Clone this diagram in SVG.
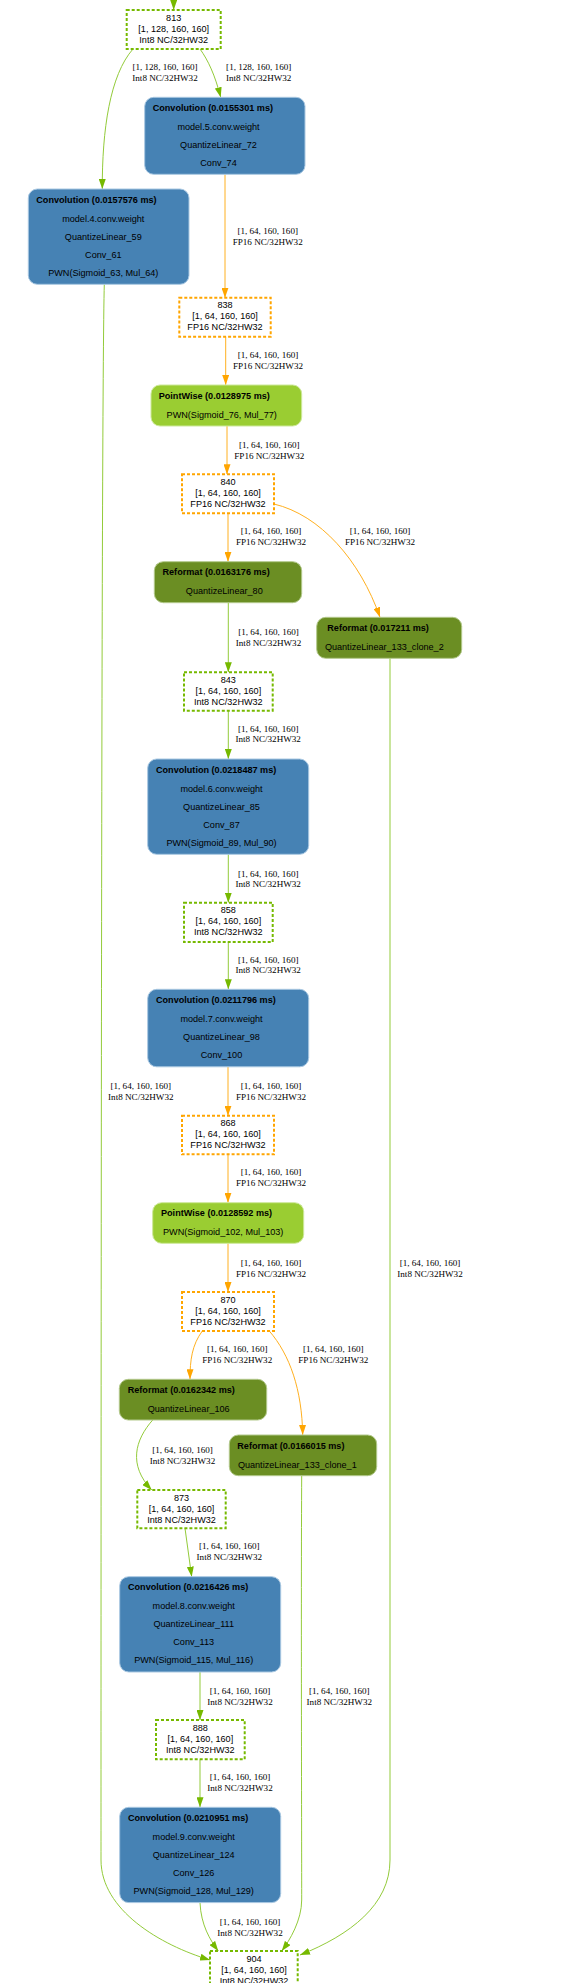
<svg xmlns="http://www.w3.org/2000/svg" width="582" height="1983" viewBox="0 0 582 1983">
<defs>
<marker id="ag" viewBox="0 0 10 7" refX="10" refY="3.5" markerWidth="10" markerHeight="7" markerUnits="userSpaceOnUse" orient="auto"><path d="M0,0 L10,3.5 L0,7 z" fill="#76B900"/></marker>
<marker id="ao" viewBox="0 0 10 7" refX="10" refY="3.5" markerWidth="10" markerHeight="7" markerUnits="userSpaceOnUse" orient="auto"><path d="M0,0 L10,3.5 L0,7 z" fill="#FFA500"/></marker>
</defs>
<style>
.eg{fill:none;stroke:#93CB3A;stroke-width:1;marker-end:url(#ag)}
.eo{fill:none;stroke:#FFB020;stroke-width:1;marker-end:url(#ao)}
.el{font-family:"Liberation Serif","Times New Roman",serif;font-size:9.1px;fill:#000;text-anchor:middle}
.dg{fill:#fff;stroke:#76B900;stroke-width:2;stroke-dasharray:3,2}
.do{fill:#fff;stroke:#FFA500;stroke-width:2;stroke-dasharray:3,2}
.dt{font-family:"Liberation Sans",Arial,sans-serif;font-size:9.1px;fill:#000;text-anchor:middle}
.conv{fill:#4682B4;stroke:#A9C8E2;stroke-width:1}
.pw{fill:#9ACD32;stroke:#CDE89A;stroke-width:1}
.rf{fill:#6B8E23;stroke:#B3C98C;stroke-width:1}
.tt{font-family:"Liberation Sans",Arial,sans-serif;font-size:9.1px;font-weight:bold;fill:#000}
.bt{font-family:"Liberation Sans",Arial,sans-serif;font-size:9.1px;fill:#000;text-anchor:middle}
</style>
<rect width="582" height="1983" fill="#fff"/>
<g id="connectors">
<path class="eg" d="M173.7,0 L173.7,10"/>
<path class="eg" d="M200,49 C208,60 215,75 220.7,97.3"/>
<text class="el" x="258.7" y="69.9">[1, 128, 160, 160]</text><text class="el" x="258.7" y="80.5">Int8 NC/32HW32</text>
<path class="eg" d="M133,49 C110,75 102,130 102.3,189"/>
<text class="el" x="165" y="69.9">[1, 128, 160, 160]</text><text class="el" x="165" y="80.5">Int8 NC/32HW32</text>
<path class="eo" d="M225,174.3 L225,297.7"/>
<text class="el" x="267.7" y="233.9">[1, 64, 160, 160]</text><text class="el" x="267.7" y="244.5">FP16 NC/32HW32</text>
<path class="eo" d="M225.7,336.7 L225.7,385"/>
<text class="el" x="268" y="357.9">[1, 64, 160, 160]</text><text class="el" x="268" y="368.5">FP16 NC/32HW32</text>
<path class="eo" d="M227,426 L227,474.3"/>
<text class="el" x="269.3" y="447.9">[1, 64, 160, 160]</text><text class="el" x="269.3" y="458.5">FP16 NC/32HW32</text>
<path class="eo" d="M228,513.3 L228,561.7"/>
<text class="el" x="271" y="533.9">[1, 64, 160, 160]</text><text class="el" x="271" y="544.5">FP16 NC/32HW32</text>
<path class="eo" d="M274,504 C320,515 360,560 380,617.3"/>
<text class="el" x="380" y="533.9">[1, 64, 160, 160]</text><text class="el" x="380" y="544.5">FP16 NC/32HW32</text>
<path class="eg" d="M228.3,602.7 L228.3,672.3"/>
<text class="el" x="268.5" y="634.9">[1, 64, 160, 160]</text><text class="el" x="268.5" y="645.5">Int8 NC/32HW32</text>
<path class="eg" d="M228.3,710.7 L228.3,759"/>
<text class="el" x="268.2" y="731.5">[1, 64, 160, 160]</text><text class="el" x="268.2" y="742.1">Int8 NC/32HW32</text>
<path class="eg" d="M228.3,854.3 L228.3,902.7"/>
<text class="el" x="268.2" y="876.5">[1, 64, 160, 160]</text><text class="el" x="268.2" y="887.1">Int8 NC/32HW32</text>
<path class="eg" d="M228.3,942 L228.3,989.3"/>
<text class="el" x="268.2" y="962.5">[1, 64, 160, 160]</text><text class="el" x="268.2" y="973.1">Int8 NC/32HW32</text>
<path class="eo" d="M228,1066.8 L228,1115.7"/>
<text class="el" x="271" y="1088.9">[1, 64, 160, 160]</text><text class="el" x="271" y="1099.5">FP16 NC/32HW32</text>
<path class="eo" d="M228,1154.3 L228,1202.7"/>
<text class="el" x="271" y="1174.9">[1, 64, 160, 160]</text><text class="el" x="271" y="1185.5">FP16 NC/32HW32</text>
<path class="eo" d="M228,1243.3 L228,1292"/>
<text class="el" x="271" y="1265.9">[1, 64, 160, 160]</text><text class="el" x="271" y="1276.5">FP16 NC/32HW32</text>
<path class="eo" d="M202.3,1331 C192,1345 190,1360 190,1379.3"/>
<text class="el" x="237.2" y="1351.9">[1, 64, 160, 160]</text><text class="el" x="237.2" y="1362.5">FP16 NC/32HW32</text>
<path class="eo" d="M269.3,1331 C290,1355 302,1390 302.7,1435"/>
<text class="el" x="333.3" y="1351.9">[1, 64, 160, 160]</text><text class="el" x="333.3" y="1362.5">FP16 NC/32HW32</text>
<path class="eg" d="M152.7,1420 C135,1440 128,1465 151.7,1490"/>
<text class="el" x="182.5" y="1452.9">[1, 64, 160, 160]</text><text class="el" x="182.5" y="1463.5">Int8 NC/32HW32</text>
<path class="eg" d="M185,1528.3 L191.7,1576.7"/>
<text class="el" x="229.3" y="1548.9">[1, 64, 160, 160]</text><text class="el" x="229.3" y="1559.5">Int8 NC/32HW32</text>
<path class="eg" d="M200,1672 L200,1720"/>
<text class="el" x="240" y="1693.9">[1, 64, 160, 160]</text><text class="el" x="240" y="1704.5">Int8 NC/32HW32</text>
<path class="eg" d="M200,1759.3 L200,1807.3"/>
<text class="el" x="240" y="1779.9">[1, 64, 160, 160]</text><text class="el" x="240" y="1790.5">Int8 NC/32HW32</text>
<path class="eg" d="M200,1902.7 C201,1925 210,1940 218.3,1951"/>
<text class="el" x="250" y="1924.9">[1, 64, 160, 160]</text><text class="el" x="250" y="1935.5">Int8 NC/32HW32</text>
<path class="eg" d="M104.3,284.3 C101,400 101,1700 101,1860 C101,1910 160,1945 210,1960"/>
<text class="el" x="140.8" y="1088.9">[1, 64, 160, 160]</text><text class="el" x="140.8" y="1099.5">Int8 NC/32HW32</text>
<path class="eg" d="M301.7,1475.7 C301,1600 301.7,1850 301.7,1900 C301.7,1920 290,1940 281.7,1951"/>
<text class="el" x="339.3" y="1693.9">[1, 64, 160, 160]</text><text class="el" x="339.3" y="1704.5">Int8 NC/32HW32</text>
<path class="eg" d="M390,658.3 L390,1860 C390,1905 350,1935 300,1955"/>
<text class="el" x="430" y="1265.9">[1, 64, 160, 160]</text><text class="el" x="430" y="1276.5">Int8 NC/32HW32</text>
</g>
<g id="n813"><rect class="dg" x="126.7" y="10" width="94" height="39"/><text class="dt" x="173.7" y="20.6">813</text><text class="dt" x="173.7" y="31.6">[1, 128, 160, 160]</text><text class="dt" x="173.7" y="42.6">Int8 NC/32HW32</text></g>
<g id="conv74"><rect class="conv" x="144.7" y="97.3" width="160.3" height="77" rx="9"/><text class="tt" x="152.7" y="111">Convolution (0.0155301 ms)</text><text class="bt" x="218.5" y="130">model.5.conv.weight</text><text class="bt" x="218.5" y="148">QuantizeLinear_72</text><text class="bt" x="218.5" y="166">Conv_74</text></g>
<g id="conv61"><rect class="conv" x="28.3" y="189" width="160.7" height="95.3" rx="9"/><text class="tt" x="36.3" y="202.7">Convolution (0.0157576 ms)</text><text class="bt" x="103.3" y="221.7">model.4.conv.weight</text><text class="bt" x="103.3" y="239.7">QuantizeLinear_59</text><text class="bt" x="103.3" y="257.7">Conv_61</text><text class="bt" x="103.3" y="275.7">PWN(Sigmoid_63, Mul_64)</text></g>
<g id="n838"><rect class="do" x="179.3" y="297.7" width="91.4" height="39"/><text class="dt" x="225" y="308.3">838</text><text class="dt" x="225" y="319.3">[1, 64, 160, 160]</text><text class="dt" x="225" y="330.3">FP16 NC/32HW32</text></g>
<g id="pw77"><rect class="pw" x="151" y="385" width="150.7" height="41" rx="9"/><text class="tt" x="158.7" y="398.7">PointWise (0.0128975 ms)</text><text class="bt" x="221.7" y="417.7">PWN(Sigmoid_76, Mul_77)</text></g>
<g id="n840"><rect class="do" x="182" y="474.3" width="92" height="39"/><text class="dt" x="228" y="484.9">840</text><text class="dt" x="228" y="495.9">[1, 64, 160, 160]</text><text class="dt" x="228" y="506.9">FP16 NC/32HW32</text></g>
<g id="ref80"><rect class="rf" x="154.3" y="561.7" width="147.4" height="41" rx="9"/><text class="tt" x="162.5" y="575.4">Reformat (0.0163176 ms)</text><text class="bt" x="224.3" y="594.4">QuantizeLinear_80</text></g>
<g id="ref133c2"><rect class="rf" x="316.7" y="617.3" width="145" height="41" rx="9"/><text class="tt" x="327.3" y="631">Reformat (0.017211 ms)</text><text class="bt" x="384.3" y="650">QuantizeLinear_133_clone_2</text></g>
<g id="n843"><rect class="dg" x="184" y="672.3" width="88.7" height="38.4"/><text class="dt" x="228.3" y="682.9">843</text><text class="dt" x="228.3" y="693.9">[1, 64, 160, 160]</text><text class="dt" x="228.3" y="704.9">Int8 NC/32HW32</text></g>
<g id="conv87"><rect class="conv" x="147.7" y="759" width="161" height="95.3" rx="9"/><text class="tt" x="156" y="772.7">Convolution (0.0218487 ms)</text><text class="bt" x="221.5" y="791.7">model.6.conv.weight</text><text class="bt" x="221.5" y="809.7">QuantizeLinear_85</text><text class="bt" x="221.5" y="827.7">Conv_87</text><text class="bt" x="221.5" y="845.7">PWN(Sigmoid_89, Mul_90)</text></g>
<g id="n858"><rect class="dg" x="184" y="902.7" width="88.7" height="39.3"/><text class="dt" x="228.3" y="913.3">858</text><text class="dt" x="228.3" y="924.3">[1, 64, 160, 160]</text><text class="dt" x="228.3" y="935.3">Int8 NC/32HW32</text></g>
<g id="conv100"><rect class="conv" x="147.7" y="989.3" width="161" height="77.5" rx="9"/><text class="tt" x="156" y="1003">Convolution (0.0211796 ms)</text><text class="bt" x="221.5" y="1022">model.7.conv.weight</text><text class="bt" x="221.5" y="1040">QuantizeLinear_98</text><text class="bt" x="221.5" y="1058">Conv_100</text></g>
<g id="n868"><rect class="do" x="182" y="1115.7" width="92" height="38.6"/><text class="dt" x="228" y="1126.3">868</text><text class="dt" x="228" y="1137.3">[1, 64, 160, 160]</text><text class="dt" x="228" y="1148.3">FP16 NC/32HW32</text></g>
<g id="pw103"><rect class="pw" x="152.7" y="1202.7" width="151" height="40.6" rx="9"/><text class="tt" x="161" y="1216.4">PointWise (0.0128592 ms)</text><text class="bt" x="223.2" y="1235.4">PWN(Sigmoid_102, Mul_103)</text></g>
<g id="n870"><rect class="do" x="182" y="1292" width="92" height="39"/><text class="dt" x="228" y="1302.6">870</text><text class="dt" x="228" y="1313.6">[1, 64, 160, 160]</text><text class="dt" x="228" y="1324.6">FP16 NC/32HW32</text></g>
<g id="ref106"><rect class="rf" x="119.3" y="1379.3" width="147.4" height="40.7" rx="9"/><text class="tt" x="127.7" y="1393">Reformat (0.0162342 ms)</text><text class="bt" x="188.7" y="1412">QuantizeLinear_106</text></g>
<g id="ref133c1"><rect class="rf" x="229.3" y="1435" width="147.4" height="40.7" rx="9"/><text class="tt" x="237.3" y="1448.7">Reformat (0.0166015 ms)</text><text class="bt" x="297.3" y="1467.7">QuantizeLinear_133_clone_1</text></g>
<g id="n873"><rect class="dg" x="137.3" y="1490" width="88.4" height="38.3"/><text class="dt" x="181.5" y="1500.6">873</text><text class="dt" x="181.5" y="1511.6">[1, 64, 160, 160]</text><text class="dt" x="181.5" y="1522.6">Int8 NC/32HW32</text></g>
<g id="conv113"><rect class="conv" x="119.7" y="1576.7" width="161" height="95.3" rx="9"/><text class="tt" x="128" y="1590.4">Convolution (0.0216426 ms)</text><text class="bt" x="193.7" y="1609.4">model.8.conv.weight</text><text class="bt" x="193.7" y="1627.4">QuantizeLinear_111</text><text class="bt" x="193.7" y="1645.4">Conv_113</text><text class="bt" x="193.7" y="1663.4">PWN(Sigmoid_115, Mul_116)</text></g>
<g id="n888"><rect class="dg" x="156" y="1720" width="88.7" height="39.3"/><text class="dt" x="200.3" y="1730.6">888</text><text class="dt" x="200.3" y="1741.6">[1, 64, 160, 160]</text><text class="dt" x="200.3" y="1752.6">Int8 NC/32HW32</text></g>
<g id="conv126"><rect class="conv" x="119.7" y="1807.3" width="161" height="95.3" rx="9"/><text class="tt" x="128" y="1821">Convolution (0.0210951 ms)</text><text class="bt" x="193.7" y="1840">model.9.conv.weight</text><text class="bt" x="193.7" y="1858">QuantizeLinear_124</text><text class="bt" x="193.7" y="1876">Conv_126</text><text class="bt" x="193.7" y="1894">PWN(Sigmoid_128, Mul_129)</text></g>
<g id="n904"><rect class="dg" x="210" y="1951" width="87.7" height="39"/><text class="dt" x="254" y="1961.6">904</text><text class="dt" x="254" y="1972.6">[1, 64, 160, 160]</text><text class="dt" x="254" y="1983.6">Int8 NC/32HW32</text></g>
</svg>
